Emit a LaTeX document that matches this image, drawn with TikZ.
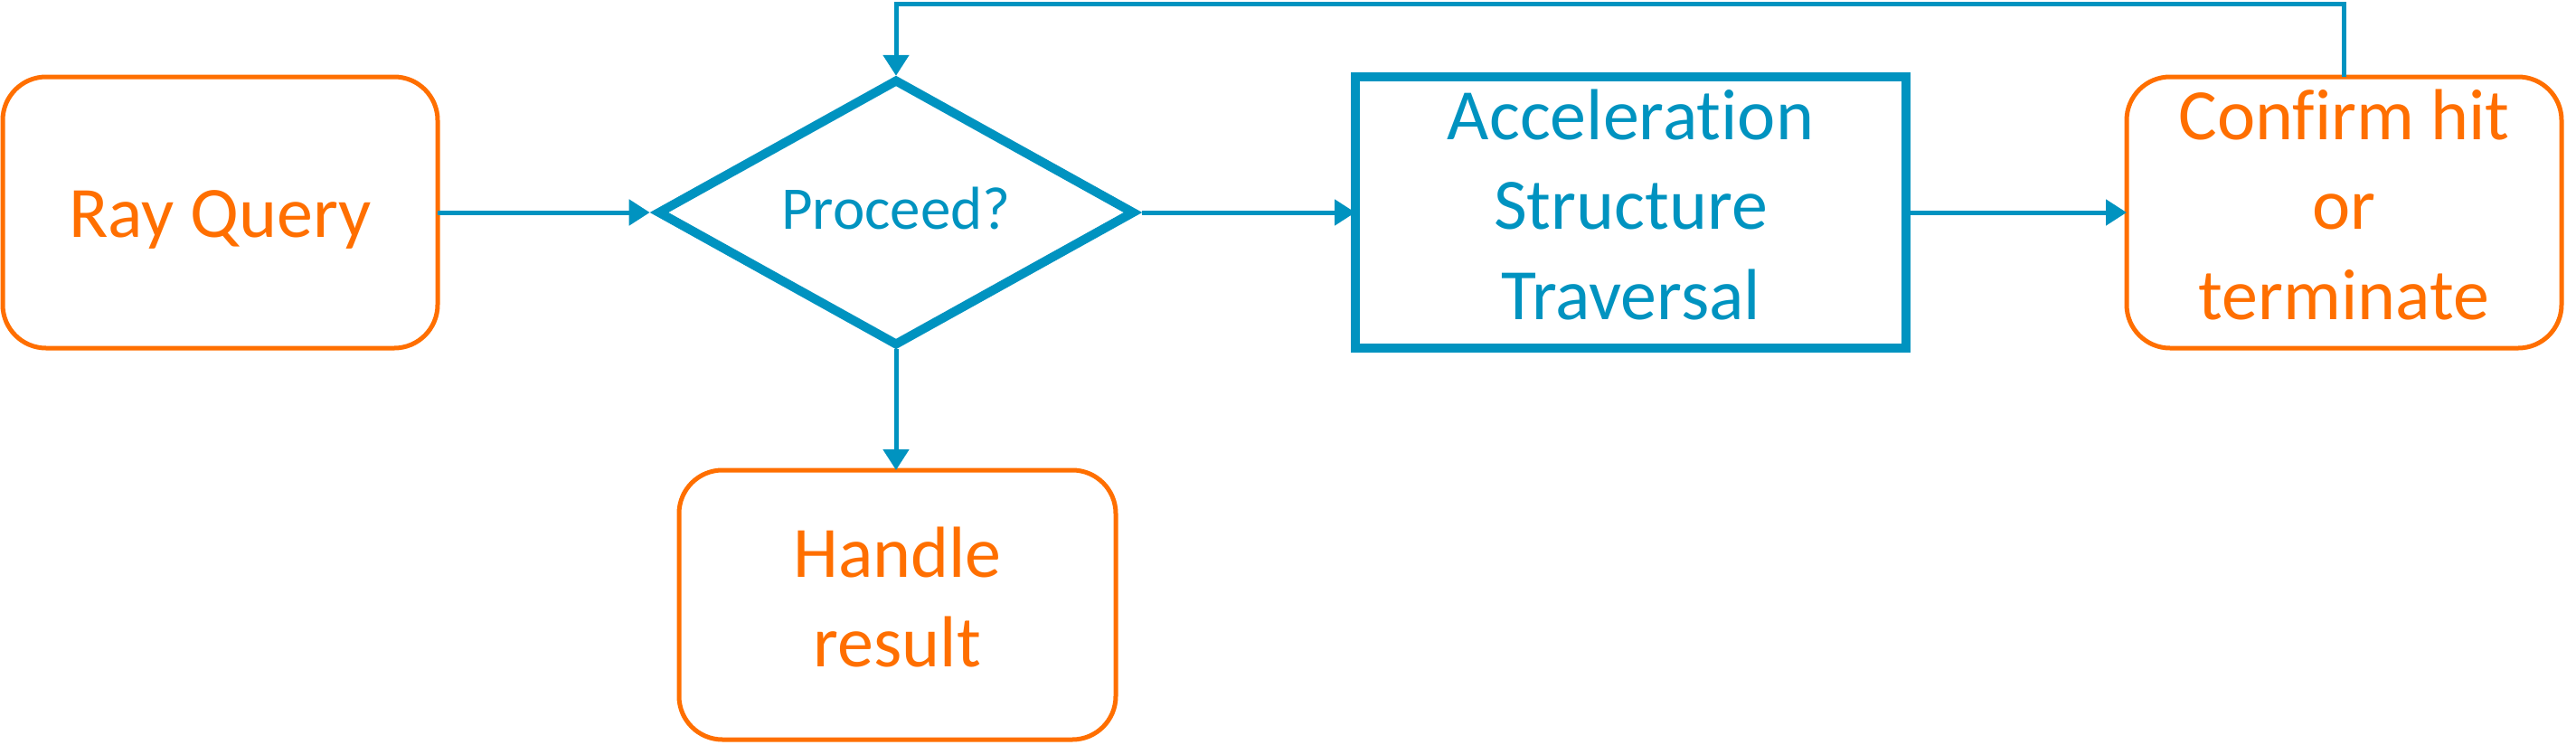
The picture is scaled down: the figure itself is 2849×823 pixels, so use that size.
\documentclass[tikz,border=0pt]{standalone}
\usepackage{fontspec}
\setmainfont{Carlito}[Ligatures={NoCommon,NoContextual},RawFeature={-liga;-clig;-dlig}]
\usetikzlibrary{arrows.meta,shapes.geometric}
\definecolor{flowor}{RGB}{255,111,0}
\definecolor{flowbl}{RGB}{0,147,192}
\newcommand{\bigstrut}{\rule[-18pt]{0pt}{91pt}}
\newcommand{\smallstrut}{\rule[-15pt]{0pt}{66pt}}
\tikzset{
  orbox/.style={draw=flowor, text=flowor, line width=5pt, rounded corners=48pt,
    minimum width=481pt, minimum height=300pt, inner sep=0pt, outer sep=0pt,
    align=center, font=\fontsize{80}{99.5}\selectfont,
    execute at begin node=\bigstrut, execute at end node=\bigstrut},
  blbox/.style={draw=flowbl, text=flowbl, line width=10pt,
    minimum width=609pt, minimum height=300pt, inner sep=0pt, outer sep=0pt,
    align=center, font=\fontsize{80}{99.5}\selectfont,
    execute at begin node=\bigstrut, execute at end node=\bigstrut},
  decision/.style={draw=flowbl, text=flowbl, shape=diamond, aspect=1.8, line width=10pt,
    minimum width=524pt, minimum height=291pt, inner sep=0pt, outer sep=0pt,
    font=\fontsize{67}{80}\selectfont,
    execute at begin node=\smallstrut, execute at end node=\smallstrut},
  conn/.style={draw=flowbl, line width=5pt, -{Triangle[length=23pt,width=28pt]}}
}
\begin{document}
\begin{tikzpicture}[x=1pt,y=-1pt]
\useasboundingbox (0,0) rectangle (2849,823);
\node[orbox] (ray) at (243.5,235) {Ray Query};
\node[decision] (dia) at (991,235) {Proceed?};
\node[blbox] (acc) at (1803.5,235) {Acceleration\\Structure\\Traversal};
\node[orbox] (conf) at (2592.5,235) {Confirm hit\\or\\terminate};
\node[orbox, minimum width=483pt, minimum height=298pt] (hand) at (992.5,669) {Handle\\result};
\coordinate (top) at (0,4);
\draw[conn] (ray.east) -- ([xshift=-10.3pt]dia.west);
\draw[conn] ([xshift=10.3pt]dia.east) -- (acc.west);
\draw[conn] (acc.east) -- (conf.west);
\draw[conn] ([yshift=-5.7pt]dia.south) -- (dia.south |- hand.north);
\draw[conn] (conf.north) -- (conf.north |- top) -| ([yshift=5.7pt]dia.north);
\end{tikzpicture}
\end{document}
